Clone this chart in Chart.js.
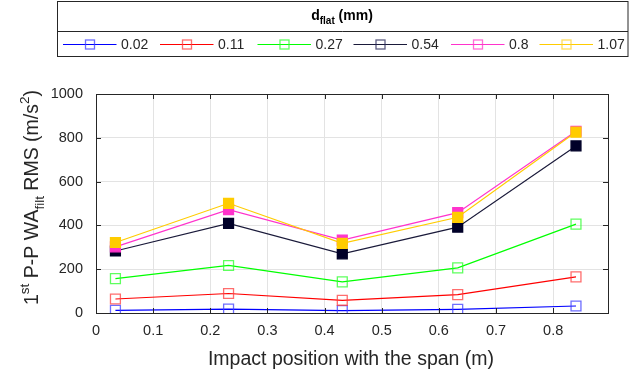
<!DOCTYPE html>
<html>
<head>
<meta charset="utf-8">
<script src="https://cdn.jsdelivr.net/npm/chart.js@4/dist/chart.umd.min.js"></script>
<style>
html,body{margin:0;padding:0;background:#fff;}
#wrap{width:629px;height:377px;position:relative;}
</style>
</head>
<body>
<div id="wrap"><canvas id="c" width="629" height="377"></canvas></div>
<script>
// ---- data ----
const positions = [0.034, 0.232, 0.431, 0.633, 0.840];
const seriesLabels = ['0.02', '0.11', '0.27', '0.54', '0.8', '1.07'];
const s002 = [12, 18, 11, 17, 32];
const s011 = [64, 89, 58, 84, 165];
const s027 = [157, 217, 142, 206, 406];
const s054 = [283, 409, 270, 392, 763];
const s080 = [302, 472, 333, 458, 830];
const s107 = [322, 501, 318, 437, 826];
const xTicks = [0, 0.1, 0.2, 0.3, 0.4, 0.5, 0.6, 0.7, 0.8];
const yTicks = [0, 200, 400, 600, 800, 1000];
const legendTitle = 'd';
const legendTitleSub = 'flat';
const legendTitleRest = ' (mm)';
const xTitle = 'Impact position with the span (m)';

// ---- styles ----
const lineColors = ['#0000ff', '#ff0000', '#00ff00', '#1a1a3a', '#ff33cc', '#ffcc00'];
const markColors = ['rgba(60,60,255,0.75)', 'rgba(255,60,60,0.75)', 'rgba(40,255,40,0.75)', '#000028', '#ff33cc', '#ffcc00'];
const legendMarkColors = ['rgba(60,60,255,0.75)', 'rgba(255,60,60,0.75)', 'rgba(40,255,40,0.75)', 'rgba(40,40,90,0.75)', 'rgba(255,60,200,0.75)', 'rgba(255,210,40,0.75)'];
const legendX = [63, 160, 257.5, 353.5, 451, 539.5];
const filled = [false, false, false, true, true, true];
const values = [s002, s011, s027, s054, s080, s107];

const FONT = '"Liberation Sans", Arial, Helvetica, sans-serif';
const TXT = '#262626';

const datasets = values.map((vals, i) => ({
  label: seriesLabels[i],
  data: positions.map((x, j) => ({ x: x, y: vals[j] })),
  borderColor: lineColors[i],
  borderWidth: 1.2,
  pointStyle: 'rect',
  pointRadius: 7,
  pointBorderWidth: 1.3,
  pointBorderColor: markColors[i],
  pointBackgroundColor: filled[i] ? markColors[i] : 'rgba(0,0,0,0)',
  tension: 0,
  fill: false,
  order: values.length - i
}));

const decor = {
  id: 'decor',
  afterDraw(chart) {
    const ctx = chart.ctx;
    const a = chart.chartArea;
    const xs = chart.scales.x, ys = chart.scales.y;
    ctx.save();
    // axes box
    ctx.strokeStyle = TXT;
    ctx.lineWidth = 1;
    ctx.strokeRect(Math.round(a.left) + 0.5, Math.round(a.top) + 0.5, Math.round(a.right - a.left), Math.round(a.bottom - a.top));
    // inward ticks
    ctx.beginPath();
    const tl = 5;
    xTicks.forEach(v => {
      const px = Math.round(xs.getPixelForValue(v)) + 0.5;
      ctx.moveTo(px, a.bottom); ctx.lineTo(px, a.bottom - tl);
      ctx.moveTo(px, a.top); ctx.lineTo(px, a.top + tl);
    });
    yTicks.forEach(v => {
      const py = Math.round(ys.getPixelForValue(v)) + 0.5;
      ctx.moveTo(a.left, py); ctx.lineTo(a.left + tl, py);
      ctx.moveTo(a.right, py); ctx.lineTo(a.right - tl, py);
    });
    ctx.stroke();

    // x title
    ctx.fillStyle = TXT;
    ctx.font = '19.5px ' + FONT;
    ctx.textAlign = 'center';
    ctx.textBaseline = 'alphabetic';
    ctx.fillText(xTitle, 351, 365);

    // y title (rotated, with super/subscripts)
    ctx.save();
    ctx.translate(38, 197.5);
    ctx.rotate(-Math.PI / 2);
    const parts = [
      { t: '1', f: 19.5, dy: 0 },
      { t: 'st', f: 13.5, dy: -9 },
      { t: ' P-P WA', f: 19.5, dy: 0 },
      { t: 'filt', f: 13.5, dy: 6 },
      { t: ' RMS (m/s', f: 19.5, dy: 0 },
      { t: '2', f: 13.5, dy: -9 },
      { t: ')', f: 19.5, dy: 0 }
    ];
    let total = 0;
    parts.forEach(p => { ctx.font = p.f + 'px ' + FONT; p.w = ctx.measureText(p.t).width; total += p.w; });
    let cx = -total / 2;
    ctx.textAlign = 'left';
    parts.forEach(p => { ctx.font = p.f + 'px ' + FONT; ctx.fillText(p.t, cx, p.dy); cx += p.w; });
    ctx.restore();

    // legend box
    const L = 57.5, R = 628, T = 1.5, B = 56.5, SEP = 31.5;
    ctx.fillStyle = '#ffffff';
    ctx.fillRect(L, T, R - L, B - T);
    ctx.strokeStyle = '#262626';
    ctx.lineWidth = 1;
    ctx.strokeRect(L, T, R - L, B - T);
    ctx.beginPath(); ctx.moveTo(L, SEP); ctx.lineTo(R, SEP); ctx.stroke();
    // legend title
    ctx.fillStyle = '#000';
    ctx.font = 'bold 14px ' + FONT;
    const w1 = ctx.measureText(legendTitle).width;
    const w3 = ctx.measureText(legendTitleRest).width;
    ctx.font = 'bold 10px ' + FONT;
    const w2 = ctx.measureText(legendTitleSub).width;
    let tx = 342 - (w1 + w2 + w3) / 2;
    ctx.textAlign = 'left';
    ctx.font = 'bold 14px ' + FONT;
    ctx.fillText(legendTitle, tx, 20); tx += w1;
    ctx.font = 'bold 10px ' + FONT;
    ctx.fillText(legendTitleSub, tx, 24); tx += w2;
    ctx.font = 'bold 14px ' + FONT;
    ctx.fillText(legendTitleRest, tx, 20);
    // legend items
    ctx.font = '14px ' + FONT;
    ctx.textBaseline = 'middle';
    const ly = 44.5;
    chart.data.datasets.forEach((ds, i) => {
      const lx = legendX[i];
      ctx.strokeStyle = lineColors[i];
      ctx.lineWidth = 1.2;
      ctx.beginPath(); ctx.moveTo(lx, ly); ctx.lineTo(lx + 53.5, ly); ctx.stroke();
      ctx.strokeStyle = legendMarkColors[i];
      ctx.lineWidth = 1.3;
      ctx.strokeRect(lx + 27 - 4.5, ly - 4.5, 9, 9);
      ctx.fillStyle = TXT;
      ctx.fillText(ds.label, lx + 58, ly + 1);
    });
    ctx.restore();
  }
};

new Chart(document.getElementById('c'), {
  type: 'line',
  data: { datasets: datasets },
  options: {
    responsive: false,
    animation: false,
    devicePixelRatio: 1,
    layout: { padding: { top: 94, right: 21, left: 0, bottom: 0 } },
    plugins: { legend: { display: false }, tooltip: { enabled: false }, title: { display: false } },
    scales: {
      x: {
        type: 'linear',
        min: 0, max: 0.896,
        afterBuildTicks: s => { s.ticks = xTicks.map(v => ({ value: v })); },
        afterFit: s => { s.height = 64; },
        grid: { color: '#e3e3e3', drawTicks: false, lineWidth: 1 },
        border: { display: false },
        ticks: { color: TXT, font: { family: FONT, size: 14.5 }, padding: 9, maxRotation: 0,
          callback: v => String(Math.round(v * 10) / 10) }
      },
      y: {
        type: 'linear',
        min: 0, max: 1000,
        afterBuildTicks: s => { s.ticks = yTicks.map(v => ({ value: v })); },
        afterFit: s => { s.width = 96; },
        grid: { color: '#e3e3e3', drawTicks: false, lineWidth: 1 },
        border: { display: false },
        ticks: { color: TXT, font: { family: FONT, size: 14.5 }, padding: 13,
          callback: v => String(v) }
      }
    }
  },
  plugins: [decor]
});
</script>
</body>
</html>
